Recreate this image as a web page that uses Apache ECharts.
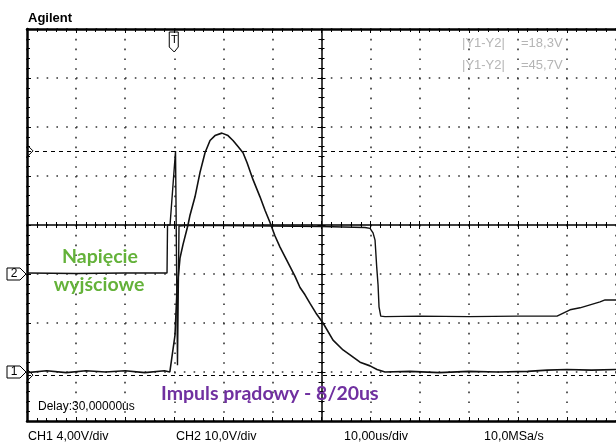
<!DOCTYPE html>
<html><head><meta charset="utf-8">
<script src="https://cdn.jsdelivr.net/npm/echarts@6/dist/echarts.min.js"></script>
<style>html,body{margin:0;padding:0;background:#fff}#c{width:616px;height:444px}</style>
</head><body><div id="c"></div>
<script>
// Channel 1: current pulse 8/20us (4 V/div), time in microseconds
const ch1Time = [-30, -26, -22, -18, -14, -10, -6, -2, -0.9, -0.5, 0.15, 0.56, 1.17, 1.78, 2.8, 3.21, 4.23, 5.25, 6.27, 7.29, 8.3, 9.7, 10.95, 11.97, 12.99, 14.01, 14.82, 16.05, 17.47, 18.49, 19.51, 20.53, 21.55, 22.57, 23.59, 24.61, 25.62, 26.64, 27.66, 28.88, 30.31, 32.35, 34.39, 35.81, 37.85, 39.89, 41.31, 42.94, 48, 54, 60, 66, 72, 76, 80, 85, 90];
const ch1Volt = [-0.05, 0.1, -0.05, 0.1, 0.0, 0.1, -0.05, 0.1, 0.0, 0.1, 3.0, 6.7, 9.3, 10.4, 12.0, 12.8, 14.3, 16.3, 17.9, 18.9, 19.3, 19.5, 19.3, 18.9, 18.4, 17.9, 17.1, 15.7, 14.3, 13.2, 12.2, 11.1, 10.2, 9.4, 8.6, 7.8, 6.9, 6.3, 5.6, 4.8, 4.0, 2.6, 1.8, 1.4, 0.8, 0.5, 0.2, 0.0, 0.05, -0.05, 0.05, 0.0, 0.05, 0.15, 0.2, 0.15, 0.2];
// Channel 2: output voltage (10 V/div)
const ch2Time = [-30, -20, -10, -1.47, -1.37, -0.86, 0.26, 0.66, 0.97, 2.19, 10, 20, 30, 38.87, 39.89, 40.5, 40.91, 41.25, 41.52, 41.72, 42.07, 42.94, 50, 60, 70, 77.99, 80.63, 82.67, 84.71, 86.75, 87.77, 90];
const ch2Volt = [0.2, 0.1, 0.2, 0.2, 10.0, 10.0, 25.1, -18.6, 9.8, 9.9, 9.9, 9.8, 9.7, 9.5, 9.3, 8.4, 6.9, 1.4, -2.2, -6.7, -8.6, -8.7, -8.6, -8.7, -8.6, -8.6, -7.3, -6.9, -6.3, -5.7, -5.3, -5.3];
// Cursors (ch1 volts)
const cursorY1 = 18.05;
const cursorY2 = -0.25;
// Axis ranges
const timeRange = [-30, 90, 10];
const ch1Range = [-4, 28, 4];
const ch2Range = [-30, 50, 10];
// Texts
const header = 'Agilent';
const readouts = [['|Y1-Y2|', '=18,3V'], ['|Y1-Y2|', '=45,7V']];
const bottomLabels = ['CH1 4,00V/div', 'CH2 10,0V/div', '10,00us/div', '10,0MSa/s'];
const delayText = 'Delay:30,00000us';
const greenText = ['Napięcie', 'wyjściowe'];
const purpleText = 'Impuls prądowy - 8/20us';

const chart = echarts.init(document.getElementById('c'), null, {renderer: 'canvas'});
const FONT = '"Liberation Sans", Arial, sans-serif';
const dotted = {color: '#333', width: 1.6, type: [1.6, 8.2]};
function frameX(pos, extra) {
  return Object.assign({
    type: 'value', min: timeRange[0], max: timeRange[1], interval: timeRange[2], position: pos,
    axisLine: {show: true, onZero: false, lineStyle: {color: '#000', width: 2.5}},
    axisTick: {show: true, inside: true, length: 4, lineStyle: {color: '#000', width: 1}},
    minorTick: {show: true, splitNumber: 5, length: 3, lineStyle: {color: '#000', width: 1}},
    axisLabel: {show: false}, splitLine: {show: false}
  }, extra || {});
}
function frameY(pos, extra) {
  return Object.assign({
    type: 'value', min: ch1Range[0], max: ch1Range[1], interval: ch1Range[2], position: pos,
    axisLine: {show: true, onZero: false, lineStyle: {color: '#000', width: 2.5}},
    axisTick: {show: true, inside: true, length: 4, lineStyle: {color: '#000', width: 1}},
    minorTick: {show: true, splitNumber: 5, length: 3, lineStyle: {color: '#000', width: 1}},
    axisLabel: {show: false}, splitLine: {show: false}
  }, extra || {});
}
const option = {
  animation: false,
  backgroundColor: '#fff',
  grid: {left: 27, top: 29, width: 589, height: 392, containLabel: false},
  xAxis: [
    frameX('bottom', {splitLine: {show: true, lineStyle: dotted}}),
    frameX('top'),
    frameX('bottom', {offset: -196, axisLine: {show: true, onZero: false, lineStyle: {color: '#000', width: 1.5}}}),
    frameX('bottom', {offset: -196, axisLine: {show: false}, axisTick: {show: true, inside: false, length: 4, lineStyle: {color: '#000'}}})
  ],
  yAxis: [
    frameY('left', {splitLine: {show: true, lineStyle: dotted}}),
    {type: 'value', min: ch2Range[0], max: ch2Range[1], interval: ch2Range[2], position: 'right', show: false},
    frameY('left', {offset: -294.5, axisLine: {show: true, onZero: false, lineStyle: {color: '#000', width: 1.5}}}),
    frameY('left', {offset: -294.5, axisLine: {show: false}, axisTick: {show: true, inside: false, length: 4, lineStyle: {color: '#000'}}})
  ],
  series: [
    {
      name: 'CH1', type: 'line', xAxisIndex: 0, yAxisIndex: 0, symbol: 'none', z: 5,
      data: ch1Time.map((t, i) => [t, ch1Volt[i]]),
      lineStyle: {color: '#111', width: 1.6},
      markLine: {
        symbol: ['none', 'none'], silent: true, label: {show: false},
        lineStyle: {color: '#000', type: [4, 4], width: 1},
        data: [{yAxis: cursorY1}, {yAxis: cursorY2}]
      }
    },
    {
      name: 'CH2', type: 'line', xAxisIndex: 0, yAxisIndex: 1, symbol: 'none', z: 5,
      data: ch2Time.map((t, i) => [t, ch2Volt[i]]),
      lineStyle: {color: '#111', width: 1.4}
    }
  ]
};
chart.setOption(option);

const g1 = chart.convertToPixel({yAxisIndex: 0}, 0);
const g2 = chart.convertToPixel({yAxisIndex: 1}, 0);
const cy1 = chart.convertToPixel({yAxisIndex: 0}, cursorY1);
const cy2 = chart.convertToPixel({yAxisIndex: 0}, cursorY2);
const tx = chart.convertToPixel({xAxisIndex: 0}, 0);
const left = 27;

function chanMarker(y, label) {
  return {
    type: 'group', z: 20, children: [
      {type: 'polygon', shape: {points: [[7, y - 6], [20, y - 6], [26, y], [20, y + 6], [7, y + 6]]},
        style: {fill: '#fff', stroke: '#000', lineWidth: 1}},
      {type: 'text', x: 14, y: y, style: {text: label, font: '12px ' + FONT, fill: '#000', align: 'center', verticalAlign: 'middle'}}
    ]
  };
}
function chevron(y) {
  return {type: 'polyline', z: 20, shape: {points: [[left, y - 6], [left + 6, y], [left, y + 6]]}, style: {stroke: '#000', lineWidth: 1, fill: null}};
}
const gfx = [
  {type: 'text', x: 28, y: 18, style: {text: header, font: 'bold 13px ' + FONT, fill: '#000', verticalAlign: 'middle'}},
  chanMarker(g2, '2'), chanMarker(g1, '1'), chevron(cy1), chevron(cy2),
  {type: 'group', z: 20, children: [
    {type: 'polygon', shape: {points: [[tx - 5, 32], [tx + 4, 32], [tx + 4, 47], [tx, 52], [tx - 5, 47]]}, style: {fill: '#fff', stroke: '#000', lineWidth: 1}},
    {type: 'text', x: tx, y: 40, style: {text: 'T', font: '11px ' + FONT, fill: '#000', align: 'center', verticalAlign: 'middle'}}
  ]},
  {type: 'text', x: 38, y: 407, style: {text: delayText, font: '12px ' + FONT, fill: '#000', verticalAlign: 'middle'}},
  {type: 'text', x: 28, y: 437, style: {text: bottomLabels[0], font: '12.5px ' + FONT, fill: '#000', verticalAlign: 'middle'}},
  {type: 'text', x: 176, y: 437, style: {text: bottomLabels[1], font: '12.5px ' + FONT, fill: '#000', verticalAlign: 'middle'}},
  {type: 'text', x: 344, y: 437, style: {text: bottomLabels[2], font: '12.5px ' + FONT, fill: '#000', verticalAlign: 'middle'}},
  {type: 'text', x: 484, y: 437, style: {text: bottomLabels[3], font: '12.5px ' + FONT, fill: '#000', verticalAlign: 'middle'}},
  {type: 'text', x: 462, y: 43, style: {text: readouts[0][0], font: '13px ' + FONT, fill: '#b5b5b5', verticalAlign: 'middle'}},
  {type: 'text', x: 521, y: 43, style: {text: readouts[0][1], font: '13px ' + FONT, fill: '#b5b5b5', verticalAlign: 'middle'}},
  {type: 'text', x: 462, y: 65, style: {text: readouts[1][0], font: '13px ' + FONT, fill: '#b5b5b5', verticalAlign: 'middle'}},
  {type: 'text', x: 521, y: 65, style: {text: readouts[1][1], font: '13px ' + FONT, fill: '#b5b5b5', verticalAlign: 'middle'}},
  {type: 'text', x: 100, y: 257, z: 30, style: {text: greenText[0], font: 'bold 19.5px Lato, "Open Sans", sans-serif', fill: '#64b23a', align: 'center', verticalAlign: 'middle'}},
  {type: 'text', x: 99, y: 285, z: 30, style: {text: greenText[1], font: 'bold 19.5px Lato, "Open Sans", sans-serif', fill: '#64b23a', align: 'center', verticalAlign: 'middle'}},
  {type: 'text', x: 161, y: 394, z: 30, style: {text: purpleText, font: 'bold 19.5px Lato, "Open Sans", sans-serif', fill: '#7030a0', verticalAlign: 'middle'}}
];
chart.setOption({graphic: gfx});
</script>
</body></html>
